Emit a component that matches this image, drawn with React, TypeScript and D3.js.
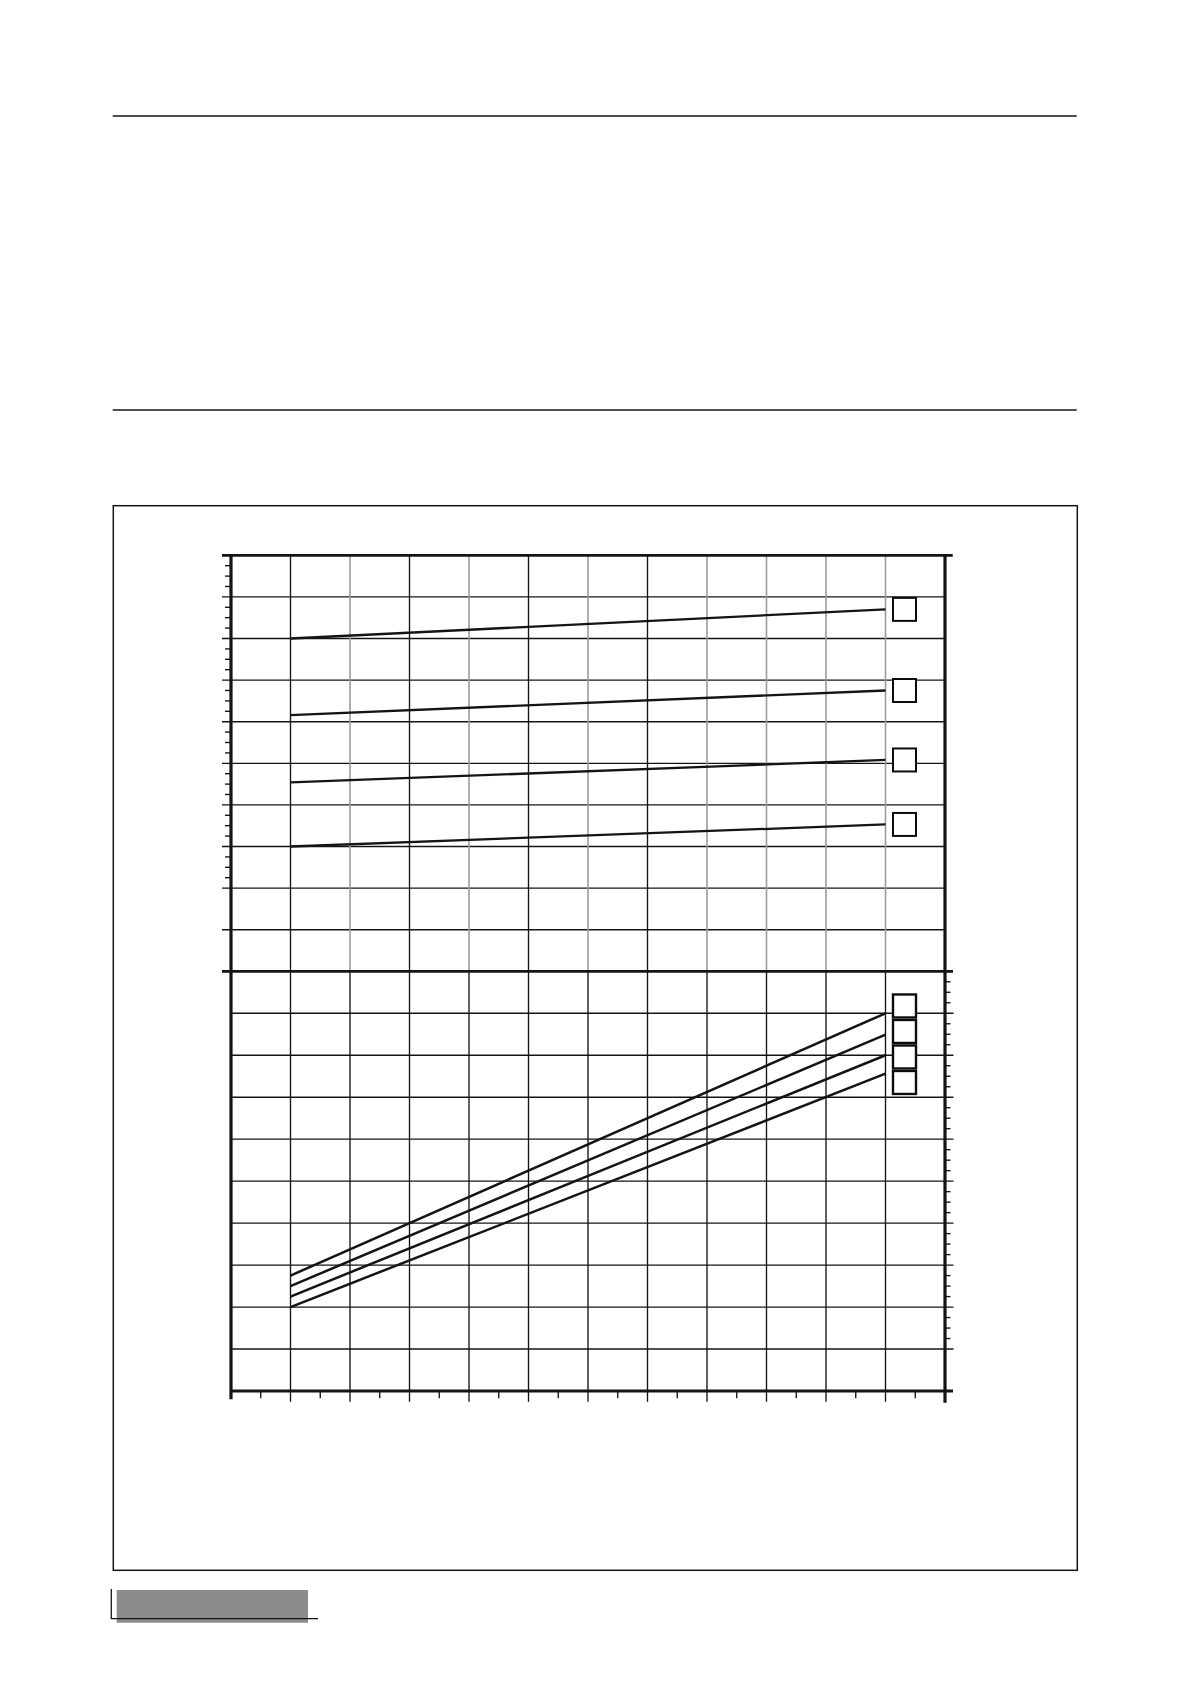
import * as d3 from "d3";

// columns on the x grid (12 intervals), rows on each panel (10 intervals)
const xCols = d3.range(0, 13);
const yRows = d3.range(0, 11);
const xStart = 1;
const xEnd = 11;

// upper panel: value at start column, value at end column
const topStart = [8.0, 6.16, 4.54, 3.0];
const topEnd = [8.7, 6.75, 5.08, 3.53];

// lower panel
const bottomStart = [2.75, 2.5, 2.25, 2.0];
const bottomEnd = [9.0, 8.49, 8.0, 7.56];

// grey vertical grid lines in the upper panel (column index)
const greyCols = [2, 4, 6, 8, 9, 10, 11];

const W = 1190;
const H = 1684;

const App = () => {
  const x = d3.scaleLinear().domain([0, 12]).range([231, 945]);
  const yTop = d3.scaleLinear().domain([0, 10]).range([971.3, 555.3]);
  const yBot = d3.scaleLinear().domain([0, 10]).range([1391, 971.3]);

  const line = d3
    .line<[number, number]>()
    .x((d) => x(d[0]))
    .y((d) => d[1]);

  const topLines = topStart.map((s, i) =>
    line([
      [xStart, yTop(s)],
      [xEnd, yTop(topEnd[i])],
    ])
  );
  const botLines = bottomStart.map((s, i) =>
    line([
      [xStart, yBot(s)],
      [xEnd, yBot(bottomEnd[i])],
    ])
  );

  // quarter ticks
  const minorTop = d3.range(2, 10, 0.25).filter((v) => v % 1 !== 0);
  const minorBot = d3.range(1, 10, 0.25).filter((v) => v % 1 !== 0);
  const halfCols = d3.range(0.5, 12, 1);

  const boxSize = 23;
  const boxX = 893;
  const stackGap = 2.5;
  const stackCenter = d3.mean(bottomEnd.map((v) => yBot(v))) as number;
  const stackTop = stackCenter - (4 * boxSize + 3 * stackGap) / 2;

  const ink = "#141414";
  const grid = 1.35;

  return (
    <svg
      width={W}
      height={H}
      style={{ position: "absolute", left: 0, top: 0, background: "#fff" }}
    >
      {/* page rules and frame */}
      <line x1={112.7} x2={1076.7} y1={116} y2={116} stroke={ink} strokeWidth={1.6} />
      <line x1={112.7} x2={1076.7} y1={410} y2={410} stroke={ink} strokeWidth={1.6} />
      <rect x={113.3} y={505.7} width={964} height={1064.6} fill="none" stroke={ink} strokeWidth={1.5} />

      {/* upper panel grid */}
      {yRows.slice(1, 10).map((r) => (
        <line key={"th" + r} x1={222} x2={945} y1={yTop(r)} y2={yTop(r)} stroke={ink} strokeWidth={grid} />
      ))}
      {xCols.slice(1, 12).map((c) => (
        <line
          key={"tv" + c}
          x1={x(c)}
          x2={x(c)}
          y1={yTop(10)}
          y2={yTop(0)}
          stroke={greyCols.includes(c) ? "#9c9c9c" : ink}
          strokeWidth={greyCols.includes(c) ? 1.6 : grid}
        />
      ))}
      {minorTop.map((v) => (
        <line key={"tm" + v} x1={225} x2={231} y1={yTop(v)} y2={yTop(v)} stroke={ink} strokeWidth={grid} />
      ))}

      {/* lower panel grid */}
      {yRows.slice(1, 10).map((r) => (
        <line key={"bh" + r} x1={231} x2={953.5} y1={yBot(r)} y2={yBot(r)} stroke={ink} strokeWidth={grid} />
      ))}
      {xCols.slice(1, 12).map((c) => (
        <line key={"bv" + c} x1={x(c)} x2={x(c)} y1={yBot(10)} y2={yBot(0) + 10.7} stroke={ink} strokeWidth={grid} />
      ))}
      {minorBot.map((v) => (
        <line key={"bm" + v} x1={945} x2={950.5} y1={yBot(v)} y2={yBot(v)} stroke={ink} strokeWidth={grid} />
      ))}
      {halfCols.map((c) => (
        <line key={"bx" + c} x1={x(c)} x2={x(c)} y1={yBot(0)} y2={yBot(0) + 7.3} stroke={ink} strokeWidth={grid} />
      ))}

      {/* axes */}
      <line x1={222} x2={952.7} y1={yTop(10)} y2={yTop(10)} stroke={ink} strokeWidth={2.8} />
      <line x1={222} x2={953} y1={yTop(0)} y2={yTop(0)} stroke={ink} strokeWidth={2.8} />
      <line x1={230} x2={953} y1={yBot(0)} y2={yBot(0)} stroke={ink} strokeWidth={2.8} />
      <line x1={x(0)} x2={x(0)} y1={yTop(10) - 1.4} y2={yBot(0) + 8.3} stroke={ink} strokeWidth={3.2} />
      <line x1={x(12)} x2={x(12)} y1={yTop(10) - 1.4} y2={yBot(0) + 11.7} stroke={ink} strokeWidth={3.2} />

      {/* series */}
      {topLines.map((d, i) => (
        <path key={"tl" + i} d={d as string} fill="none" stroke={ink} strokeWidth={2.3} />
      ))}
      {botLines.map((d, i) => (
        <path key={"bl" + i} d={d as string} fill="none" stroke={ink} strokeWidth={2.5} />
      ))}

      {/* label boxes */}
      {topEnd.map((v, i) => (
        <rect
          key={"tb" + i}
          x={boxX}
          y={yTop(v) - boxSize / 2}
          width={boxSize}
          height={boxSize}
          fill="#fff"
          stroke="#0c0c0c"
          strokeWidth={2}
        />
      ))}
      {bottomEnd.map((_, i) => (
        <rect
          key={"bb" + i}
          x={boxX}
          y={stackTop + i * (boxSize + stackGap)}
          width={boxSize}
          height={boxSize}
          fill="#fff"
          stroke="#0c0c0c"
          strokeWidth={2.4}
        />
      ))}

      {/* page footer tab */}
      <rect x={116.7} y={1590} width={191.3} height={32.7} fill="#8c8c8c" />
      <polyline points="111.3,1589 111.3,1618.7 318,1618.7" fill="none" stroke={ink} strokeWidth={1.3} />
    </svg>
  );
};

export default App;
